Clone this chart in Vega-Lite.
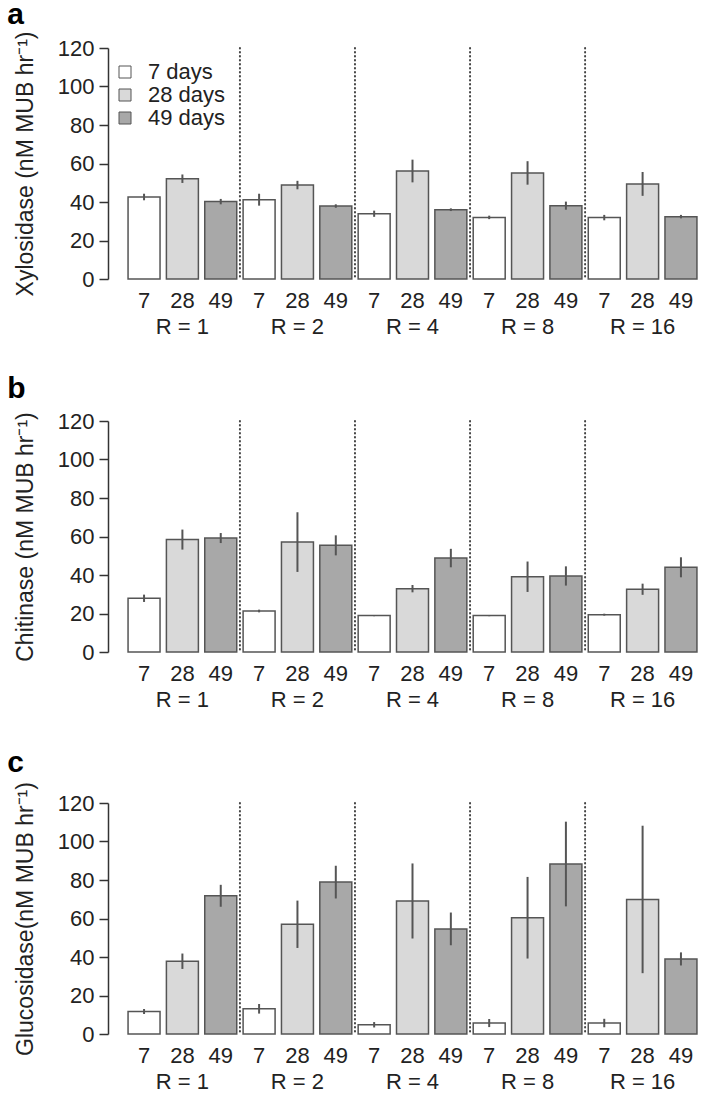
{
  "$schema": "https://vega.github.io/schema/vega-lite/v6.json",
  "padding": {"left": 7, "top": 0, "right": 0, "bottom": 0},
  "background": "white",
  "datasets": {
    "bars": [
      {"panel": "a", "cat": "1/7", "day": "7", "mean": 42.6, "se": 1.7},
      {"panel": "a", "cat": "1/28", "day": "28", "mean": 52.1, "se": 2.2},
      {"panel": "a", "cat": "1/49", "day": "49", "mean": 40.2, "se": 1.4},
      {"panel": "a", "cat": "2/7", "day": "7", "mean": 41.2, "se": 3.1},
      {"panel": "a", "cat": "2/28", "day": "28", "mean": 48.8, "se": 2.2},
      {"panel": "a", "cat": "2/49", "day": "49", "mean": 37.9, "se": 0.9},
      {"panel": "a", "cat": "4/7", "day": "7", "mean": 33.9, "se": 1.6},
      {"panel": "a", "cat": "4/28", "day": "28", "mean": 56.1, "se": 5.9},
      {"panel": "a", "cat": "4/49", "day": "49", "mean": 36.0, "se": 0.7},
      {"panel": "a", "cat": "8/7", "day": "7", "mean": 32.0, "se": 0.9},
      {"panel": "a", "cat": "8/28", "day": "28", "mean": 55.1, "se": 6.1},
      {"panel": "a", "cat": "8/49", "day": "49", "mean": 38.1, "se": 2.1},
      {"panel": "a", "cat": "16/7", "day": "7", "mean": 31.9, "se": 1.4},
      {"panel": "a", "cat": "16/28", "day": "28", "mean": 49.4, "se": 6.2},
      {"panel": "a", "cat": "16/49", "day": "49", "mean": 32.4, "se": 0.9},
      {"panel": "b", "cat": "1/7", "day": "7", "mean": 27.9, "se": 1.9},
      {"panel": "b", "cat": "1/28", "day": "28", "mean": 58.4, "se": 5.2},
      {"panel": "b", "cat": "1/49", "day": "49", "mean": 59.2, "se": 2.6},
      {"panel": "b", "cat": "2/7", "day": "7", "mean": 21.3, "se": 0.7},
      {"panel": "b", "cat": "2/28", "day": "28", "mean": 57.1, "se": 15.5},
      {"panel": "b", "cat": "2/49", "day": "49", "mean": 55.4, "se": 5.2},
      {"panel": "b", "cat": "4/7", "day": "7", "mean": 18.9, "se": 0.3},
      {"panel": "b", "cat": "4/28", "day": "28", "mean": 32.9, "se": 1.9},
      {"panel": "b", "cat": "4/49", "day": "49", "mean": 48.8, "se": 4.8},
      {"panel": "b", "cat": "8/7", "day": "7", "mean": 18.9, "se": 0.3},
      {"panel": "b", "cat": "8/28", "day": "28", "mean": 39.1, "se": 7.9},
      {"panel": "b", "cat": "8/49", "day": "49", "mean": 39.5, "se": 5.0},
      {"panel": "b", "cat": "16/7", "day": "7", "mean": 19.4, "se": 0.5},
      {"panel": "b", "cat": "16/28", "day": "28", "mean": 32.6, "se": 2.9},
      {"panel": "b", "cat": "16/49", "day": "49", "mean": 44.0, "se": 5.2},
      {"panel": "c", "cat": "1/7", "day": "7", "mean": 11.7, "se": 1.3},
      {"panel": "c", "cat": "1/28", "day": "28", "mean": 37.8, "se": 4.0},
      {"panel": "c", "cat": "1/49", "day": "49", "mean": 71.8, "se": 5.7},
      {"panel": "c", "cat": "2/7", "day": "7", "mean": 13.1, "se": 2.5},
      {"panel": "c", "cat": "2/28", "day": "28", "mean": 57.0, "se": 12.3},
      {"panel": "c", "cat": "2/49", "day": "49", "mean": 78.9, "se": 8.5},
      {"panel": "c", "cat": "4/7", "day": "7", "mean": 4.8, "se": 1.4},
      {"panel": "c", "cat": "4/28", "day": "28", "mean": 69.1, "se": 19.5},
      {"panel": "c", "cat": "4/49", "day": "49", "mean": 54.6, "se": 8.5},
      {"panel": "c", "cat": "8/7", "day": "7", "mean": 5.7, "se": 2.1},
      {"panel": "c", "cat": "8/28", "day": "28", "mean": 60.4, "se": 21.2},
      {"panel": "c", "cat": "8/49", "day": "49", "mean": 88.3, "se": 22.0},
      {"panel": "c", "cat": "16/7", "day": "7", "mean": 5.7, "se": 2.2},
      {"panel": "c", "cat": "16/28", "day": "28", "mean": 69.9, "se": 38.3},
      {"panel": "c", "cat": "16/49", "day": "49", "mean": 39.0, "se": 3.4}
    ],
    "seps": [{"cat": "1/49"}, {"cat": "2/49"}, {"cat": "4/49"}, {"cat": "8/49"}]
  },
  "resolve": {"scale": {"color": "independent"}, "legend": {"color": "independent"}},
  "spacing": 37,
  "vconcat": [
    {
      "title": {"text": "a", "offset": 1},
      "width": 585, "height": 231,
      "layer": [
        {
          "data": {"name": "bars"},
          "transform": [{"filter": "datum.panel == 'a'"}],
          "mark": {"type": "bar", "stroke": "#555555", "strokeWidth": 1.5},
          "encoding": {
            "x": {"field": "cat", "type": "nominal", "scale": {"domain": ["1/7","1/28","1/49","2/7","2/28","2/49","4/7","4/28","4/49","8/7","8/28","8/49","16/7","16/28","16/49"], "paddingInner": 0.166, "paddingOuter": 0.21}, "axis": {"labelExpr": "split(datum.value, '/')[1] == '28' ? ['28', 'R = ' + split(datum.value, '/')[0]] : split(datum.value, '/')[1]"}},
            "y": {"field": "mean", "type": "quantitative", "scale": {"domain": [0, 120], "nice": false}, "axis": {"title": "Xylosidase (nM MUB hr⁻¹)", "values": [0, 20, 40, 60, 80, 100, 120]}},
            "color": {"field": "day", "type": "nominal", "scale": {"domain": ["7", "28", "49"], "range": ["#ffffff", "#d9d9d9", "#a8a8a8"]},
              "legend": {"orient": "none", "legendX": -6, "legendY": 13, "title": null, "labelExpr": "datum.label + ' days'", "symbolType": "square", "symbolSize": 144, "symbolStrokeColor": "#555555", "symbolStrokeWidth": 1, "labelFontSize": 22, "labelColor": "#222222", "labelOffset": 12, "rowPadding": 1, "padding": 0}}
          }
        },
        {
          "data": {"name": "seps"},
          "mark": {"type": "rule", "color": "#444444", "strokeWidth": 2, "strokeDash": [0.5, 3.5], "strokeCap": "round"},
          "encoding": {"x": {"field": "cat", "type": "nominal", "bandPosition": 1.1}}
        },
        {
          "data": {"name": "bars"},
          "transform": [{"filter": "datum.panel == 'a'"}],
          "mark": {"type": "errorbar", "color": "#555555", "thickness": 2},
          "encoding": {
            "x": {"field": "cat", "type": "nominal"},
            "y": {"field": "mean", "type": "quantitative", "axis": {"title": "Xylosidase (nM MUB hr⁻¹)", "values": [0, 20, 40, 60, 80, 100, 120]}},
            "yError": {"field": "se"}
          }
        }
      ]
    },
    {
      "title": {"text": "b", "offset": 6},
      "width": 585, "height": 231,
      "layer": [
        {
          "data": {"name": "bars"},
          "transform": [{"filter": "datum.panel == 'b'"}],
          "mark": {"type": "bar", "stroke": "#555555", "strokeWidth": 1.5},
          "encoding": {
            "x": {"field": "cat", "type": "nominal", "scale": {"domain": ["1/7","1/28","1/49","2/7","2/28","2/49","4/7","4/28","4/49","8/7","8/28","8/49","16/7","16/28","16/49"], "paddingInner": 0.166, "paddingOuter": 0.21}, "axis": {"labelExpr": "split(datum.value, '/')[1] == '28' ? ['28', 'R = ' + split(datum.value, '/')[0]] : split(datum.value, '/')[1]"}},
            "y": {"field": "mean", "type": "quantitative", "scale": {"domain": [0, 120], "nice": false}, "axis": {"title": "Chitinase (nM MUB hr⁻¹)", "values": [0, 20, 40, 60, 80, 100, 120]}},
            "color": {"field": "day", "type": "nominal", "scale": {"domain": ["7", "28", "49"], "range": ["#ffffff", "#d9d9d9", "#a8a8a8"]}, "legend": null}
          }
        },
        {
          "data": {"name": "seps"},
          "mark": {"type": "rule", "color": "#444444", "strokeWidth": 2, "strokeDash": [0.5, 3.5], "strokeCap": "round"},
          "encoding": {"x": {"field": "cat", "type": "nominal", "bandPosition": 1.1}}
        },
        {
          "data": {"name": "bars"},
          "transform": [{"filter": "datum.panel == 'b'"}],
          "mark": {"type": "errorbar", "color": "#555555", "thickness": 2},
          "encoding": {
            "x": {"field": "cat", "type": "nominal"},
            "y": {"field": "mean", "type": "quantitative", "axis": {"title": "Chitinase (nM MUB hr⁻¹)", "values": [0, 20, 40, 60, 80, 100, 120]}},
            "yError": {"field": "se"}
          }
        }
      ]
    },
    {
      "title": {"text": "c", "offset": 4},
      "width": 585, "height": 231,
      "layer": [
        {
          "data": {"name": "bars"},
          "transform": [{"filter": "datum.panel == 'c'"}],
          "mark": {"type": "bar", "stroke": "#555555", "strokeWidth": 1.5},
          "encoding": {
            "x": {"field": "cat", "type": "nominal", "scale": {"domain": ["1/7","1/28","1/49","2/7","2/28","2/49","4/7","4/28","4/49","8/7","8/28","8/49","16/7","16/28","16/49"], "paddingInner": 0.166, "paddingOuter": 0.21}, "axis": {"labelExpr": "split(datum.value, '/')[1] == '28' ? ['28', 'R = ' + split(datum.value, '/')[0]] : split(datum.value, '/')[1]"}},
            "y": {"field": "mean", "type": "quantitative", "scale": {"domain": [0, 120], "nice": false}, "axis": {"title": "Glucosidase(nM MUB hr⁻¹)", "values": [0, 20, 40, 60, 80, 100, 120]}},
            "color": {"field": "day", "type": "nominal", "scale": {"domain": ["7", "28", "49"], "range": ["#ffffff", "#d9d9d9", "#a8a8a8"]}, "legend": null}
          }
        },
        {
          "data": {"name": "seps"},
          "mark": {"type": "rule", "color": "#444444", "strokeWidth": 2, "strokeDash": [0.5, 3.5], "strokeCap": "round"},
          "encoding": {"x": {"field": "cat", "type": "nominal", "bandPosition": 1.1}}
        },
        {
          "data": {"name": "bars"},
          "transform": [{"filter": "datum.panel == 'c'"}],
          "mark": {"type": "errorbar", "color": "#555555", "thickness": 2},
          "encoding": {
            "x": {"field": "cat", "type": "nominal"},
            "y": {"field": "mean", "type": "quantitative", "axis": {"title": "Glucosidase(nM MUB hr⁻¹)", "values": [0, 20, 40, 60, 80, 100, 120]}},
            "yError": {"field": "se"}
          }
        }
      ]
    }
  ],
  "config": {
    "font": "Liberation Sans",
    "view": {"stroke": null},
    "title": {"fontSize": 30, "fontWeight": "bold", "color": "#000000", "anchor": "start", "frame": "bounds", "baseline": "alphabetic", "dx": -7},
    "axisY": {"offset": 12, "domainColor": "#333333", "tickColor": "#333333", "domainWidth": 1.5, "tickWidth": 1.5, "tickSize": 9, "labelPadding": 5, "labelFontSize": 22, "labelColor": "#222222", "labelOverlap": false, "titleFontSize": 23, "titleFontWeight": "normal", "titleColor": "#222222", "titlePadding": 20, "grid": false},
    "axisX": {"domain": false, "ticks": false, "tickSize": 0, "labelAngle": 0, "labelFontSize": 22, "labelPadding": 11, "labelColor": "#222222", "labelLineHeight": 26, "labelBaseline": "top", "labelOverlap": false, "labelFlush": false, "title": null}
  }
}
